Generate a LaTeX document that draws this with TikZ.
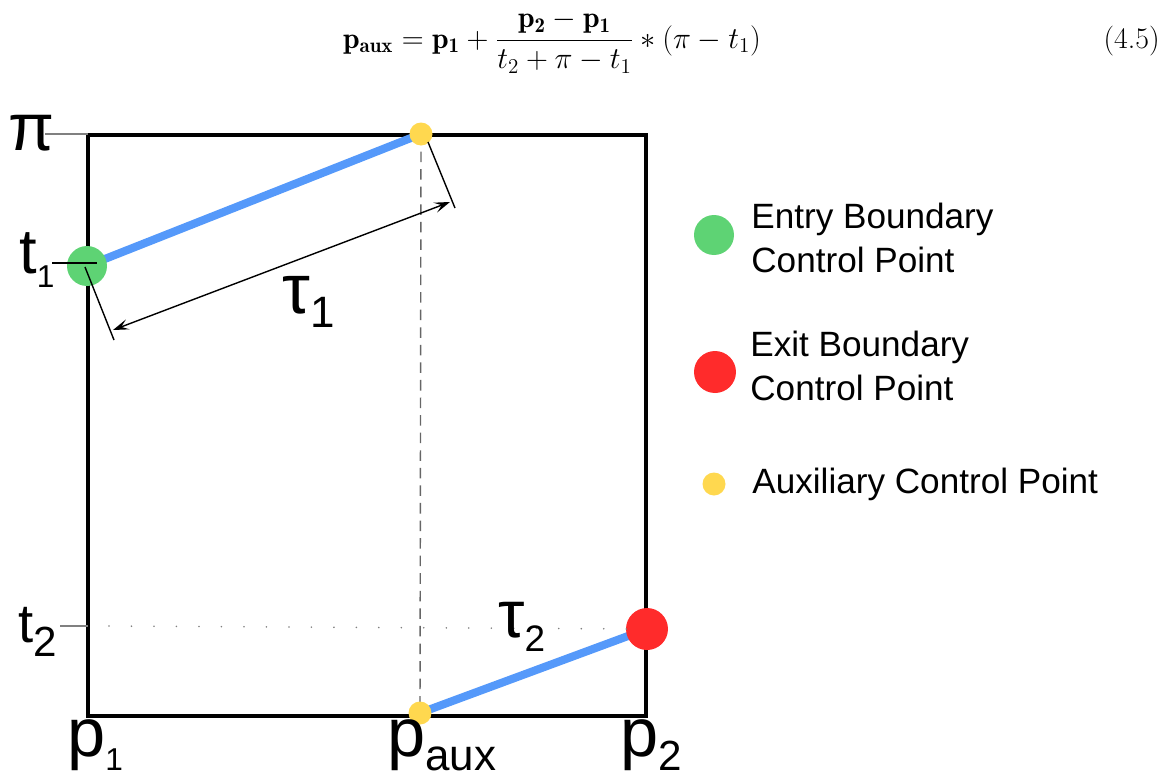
\documentclass[tikz,border=0pt]{standalone}
\usepackage{fontspec}
\setsansfont{Liberation Sans}
\usetikzlibrary{calc,arrows.meta}

\definecolor{entrygreen}{HTML}{5ED374}
\definecolor{exitred}{HTML}{FF2B2B}
\definecolor{auxyellow}{HTML}{FFD84F}
\definecolor{pathblue}{HTML}{5599FA}

% label with a lowered index: size, letter, index size, index
\newcommand\sublabel[4]{{\fontsize{#1}{#1}\selectfont #2}{\fontsize{#3}{#3}\selectfont\raisebox{-8pt}{#4}}}

\begin{document}
\begin{tikzpicture}[x=0.02cm,y=-0.02cm,
    lbl/.style={inner sep=0pt,anchor=base west,font=\sffamily},
    legend/.style={inner sep=0pt,anchor=base west,align=left,font=\sffamily\fontsize{20}{25}\selectfont},
    ctrlpt/.style={circle,inner sep=0pt,minimum size=#1},
    pathline/.style={pathblue,line width=4.6pt},
    dimline/.style={line width=0.8pt},
    dimarrow/.style={dimline,{Stealth[length=9pt,width=6pt,inset=4pt]}-{Stealth[length=9pt,width=6pt,inset=4pt]}}]
    \useasboundingbox (0,0) rectangle (1171,778);

    % Equation
    \node[anchor=base,inner sep=0pt] (eq) at (552,48) {\fontsize{17}{20}\selectfont$\displaystyle \mathbf{p_{aux}} = \mathbf{p_1} + \frac{\mathbf{p_2-p_1}}{t_2+\pi-t_1}*(\pi-t_1)$};
    \node[anchor=base east,inner sep=0pt] (eqno) at (1160,48) {\fontsize{17}{20}\selectfont(4.5)};

    % Control points
    \coordinate (s1) at (87,266);
    \coordinate (a1) at (421,134);
    \coordinate (a2) at (420,713);
    \coordinate (e2) at (647,629);

    % Draw square
    \draw[line width=1.8pt] (88,135) rectangle (646,716);
    \draw[gray!80!black,line width=0.8pt,dash pattern=on 6pt off 4pt] (a1) -- (a2);

    % Blue paths
    \draw[pathline] (s1) -- (a1);
    \draw[pathline] (a2) -- (e2);

    \node[ctrlpt=0.8cm,fill=entrygreen] (entry) at (s1) {};
    \node[ctrlpt=0.46cm,fill=auxyellow] (aux1) at (a1) {};
    \node[ctrlpt=0.46cm,fill=auxyellow] (aux2) at (a2) {};
    \node[ctrlpt=0.84cm,fill=exitred] (exit) at (e2) {};

    % Axis ticks
    \draw[gray,line width=0.8pt] (45,134) -- (88,134);
    \draw[line width=0.8pt] (52,263) -- (97,263);
    \draw[gray,line width=0.7pt] (60,626) -- (88,626);
    \draw[gray,line width=1pt,line cap=round,dash pattern=on 0pt off 12.8pt] (109,626) -- (e2);

    % Length of the first segment
    \draw[dimline] ($(s1)+(-2,1)$) -- ($(s1)+(27,74)$);
    \draw[dimline] ($(a1)+(7,8)$) -- ($(a1)+(34,74)$);
    \draw[dimarrow] ($(s1)+(26,64)$) -- ($(a1)+(29,68)$);

    % Axis labels
    \node[lbl] (pilbl) at (8,150) {\fontsize{38}{38}\selectfont π};
    \node[lbl] (t1lbl) at (19,273) {\sublabel{36}{t}{18}{1}};
    \node[lbl] (t2lbl) at (18,642) {\sublabel{31}{t}{24}{2}};
    \node[lbl] (p1lbl) at (67,756) {\sublabel{39}{p}{18}{1}};
    \node[lbl] (pauxlbl) at (387,756) {\sublabel{39}{p}{25}{aux}};
    \node[lbl] (p2lbl) at (620,756) {\sublabel{39}{p}{24}{2}};
    \node[lbl] (tau1lbl) at (282,313) {\sublabel{40}{τ}{25}{1}};
    \node[lbl] (tau2lbl) at (498,637) {\sublabel{38}{τ}{21}{2}};

    % Legend
    \node[ctrlpt=0.8cm,fill=entrygreen] (lgentry) at (714,235) {};
    \node[legend] (lgentrytxt) at (751,272) {Entry Boundary\\Control Point};
    \node[ctrlpt=0.84cm,fill=exitred] (lgexit) at (715,372) {};
    \node[legend] (lgexittxt) at (750,400) {Exit Boundary\\Control Point};
    \node[ctrlpt=0.46cm,fill=auxyellow] (lgaux) at (714,484) {};
    \node[legend] (lgauxtxt) at (752,493) {Auxiliary Control Point};
\end{tikzpicture}
\end{document}
